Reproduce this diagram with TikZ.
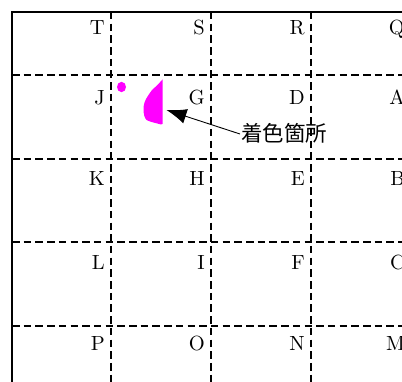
\documentclass[tikz,border=0pt]{standalone}
\usepackage{fontspec}
\newfontfamily\cjk{Noto Sans CJK JP}
\newfontfamily\lmten{lmroman10-regular.otf}
\definecolor{spotmag}{RGB}{255,0,255}
\usetikzlibrary{arrows.meta}
\begin{document}
\begin{tikzpicture}[x=1pt,y=-1pt,
  gridline/.style={line width=1.8pt,dash pattern=on 7.5pt off 4.2pt},
  border/.style={line width=2pt},
  lbl/.style={anchor=base east,inner sep=0pt,font=\lmten\fontsize{20.5}{21}\selectfont},
  paint/.style={fill=spotmag,draw=none},
  callout/.style={font=\cjk\fontsize{21.5}{22}\selectfont,anchor=west,inner sep=0pt}]
\useasboundingbox (0,0) rectangle (402,382);
% grid
\foreach \x in {111,211,311}
  \draw[gridline] (\x,12) -- (\x,382);
\foreach \y in {75,159,242,326}
  \draw[gridline] (12,\y) -- (402,\y);
\draw[border] (12,382) -- (12,12) -- (402,12);
% labels
\foreach \r/\b/\l in {1/35/{T,S,R,Q},2/105/{J,G,D,A},3/186/{K,H,E,B},4/270/{L,I,F,C},5/351/{P,O,N,M}}{
  \foreach \t [count=\c] in \l {
    \pgfmathsetmacro{\xx}{100*\c+5}
    \node[lbl] (l\r\c) at (\xx,\b) {\t};
  }
}
% coloured spots
\fill[paint] (121.5,87) ellipse [x radius=4.5,y radius=5.2];
\fill[paint] (162.5,79.5) -- (157.5,85) -- (152,90) -- (148.5,95)
  .. controls (145,100) and (143.5,104) .. (143.5,109)
  .. controls (143.5,114) and (144.5,118) .. (146.5,120)
  .. controls (150,122) and (156,123) .. (161,124.5) -- (162.5,124) -- cycle;
\coordinate (spot) at (166.5,110);
% callout
\node[callout] (txt) at (241,133) {着色箇所};
\draw[line width=0.9pt,-{Latex[length=20pt,width=15pt]}] (txt.west) ++(-1,1) -- (spot);
\end{tikzpicture}
\end{document}
